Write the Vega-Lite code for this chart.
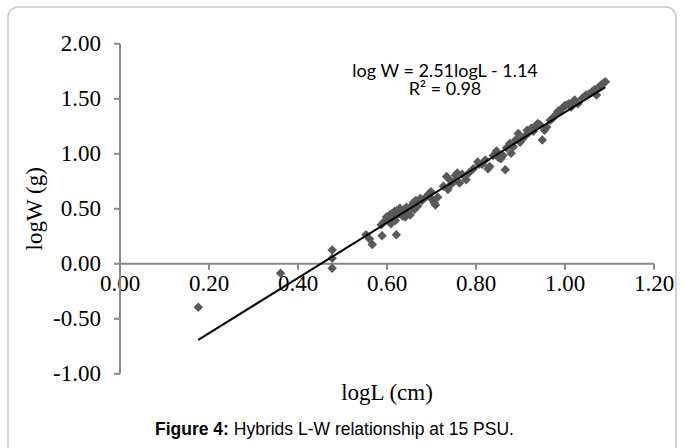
{
  "$schema": "https://vega.github.io/schema/vega-lite/v6.json",
  "width": 534,
  "height": 330,
  "autosize": {"type": "none"},
  "padding": {"left": 119.5, "top": 43.3, "right": 29.5, "bottom": 74.7},
  "background": "white",
  "config": {"view": {"stroke": null}},
  "datasets": {
    "points": [
      {"x": 0.177, "y": -0.40}, {"x": 0.362, "y": -0.09}, {"x": 0.478, "y": 0.12}, {"x": 0.478, "y": 0.045}, {"x": 0.478, "y": -0.045},
      {"x": 0.554, "y": 0.26}, {"x": 0.562, "y": 0.22}, {"x": 0.568, "y": 0.17}, {"x": 0.590, "y": 0.25}, {"x": 0.588, "y": 0.35},
      {"x": 0.595, "y": 0.38}, {"x": 0.600, "y": 0.42}, {"x": 0.603, "y": 0.40}, {"x": 0.607, "y": 0.44}, {"x": 0.610, "y": 0.36},
      {"x": 0.612, "y": 0.45}, {"x": 0.615, "y": 0.42}, {"x": 0.618, "y": 0.47}, {"x": 0.620, "y": 0.39}, {"x": 0.622, "y": 0.26},
      {"x": 0.624, "y": 0.48}, {"x": 0.627, "y": 0.45}, {"x": 0.630, "y": 0.50}, {"x": 0.633, "y": 0.47}, {"x": 0.636, "y": 0.43},
      {"x": 0.640, "y": 0.49}, {"x": 0.642, "y": 0.42}, {"x": 0.645, "y": 0.51}, {"x": 0.648, "y": 0.45}, {"x": 0.650, "y": 0.48},
      {"x": 0.653, "y": 0.44}, {"x": 0.656, "y": 0.52}, {"x": 0.660, "y": 0.55}, {"x": 0.663, "y": 0.49}, {"x": 0.666, "y": 0.57},
      {"x": 0.670, "y": 0.52}, {"x": 0.676, "y": 0.59}, {"x": 0.680, "y": 0.57}, {"x": 0.688, "y": 0.60}, {"x": 0.695, "y": 0.63},
      {"x": 0.700, "y": 0.65}, {"x": 0.703, "y": 0.58}, {"x": 0.707, "y": 0.55}, {"x": 0.710, "y": 0.53}, {"x": 0.715, "y": 0.60},
      {"x": 0.728, "y": 0.70}, {"x": 0.735, "y": 0.79}, {"x": 0.738, "y": 0.67}, {"x": 0.742, "y": 0.76}, {"x": 0.746, "y": 0.72},
      {"x": 0.750, "y": 0.74}, {"x": 0.755, "y": 0.80}, {"x": 0.759, "y": 0.82}, {"x": 0.764, "y": 0.73}, {"x": 0.770, "y": 0.81},
      {"x": 0.779, "y": 0.76}, {"x": 0.785, "y": 0.82}, {"x": 0.795, "y": 0.86}, {"x": 0.805, "y": 0.92}, {"x": 0.808, "y": 0.90},
      {"x": 0.815, "y": 0.90}, {"x": 0.822, "y": 0.94}, {"x": 0.828, "y": 0.86}, {"x": 0.832, "y": 0.88}, {"x": 0.840, "y": 0.98},
      {"x": 0.847, "y": 1.02}, {"x": 0.852, "y": 0.96}, {"x": 0.857, "y": 0.95}, {"x": 0.862, "y": 0.98}, {"x": 0.867, "y": 0.85},
      {"x": 0.870, "y": 1.05}, {"x": 0.877, "y": 1.09}, {"x": 0.880, "y": 1.00}, {"x": 0.885, "y": 1.06}, {"x": 0.890, "y": 1.12},
      {"x": 0.896, "y": 1.18}, {"x": 0.900, "y": 1.10}, {"x": 0.905, "y": 1.13}, {"x": 0.910, "y": 1.15}, {"x": 0.916, "y": 1.21},
      {"x": 0.920, "y": 1.19}, {"x": 0.926, "y": 1.23}, {"x": 0.930, "y": 1.20}, {"x": 0.936, "y": 1.25}, {"x": 0.940, "y": 1.27},
      {"x": 0.945, "y": 1.26}, {"x": 0.950, "y": 1.12}, {"x": 0.955, "y": 1.21}, {"x": 0.960, "y": 1.24}, {"x": 0.968, "y": 1.30},
      {"x": 0.974, "y": 1.32}, {"x": 0.980, "y": 1.35}, {"x": 0.985, "y": 1.38}, {"x": 0.989, "y": 1.39}, {"x": 0.995, "y": 1.41},
      {"x": 1.000, "y": 1.43}, {"x": 1.004, "y": 1.44}, {"x": 1.010, "y": 1.45}, {"x": 1.015, "y": 1.42}, {"x": 1.020, "y": 1.47},
      {"x": 1.023, "y": 1.485}, {"x": 1.030, "y": 1.45}, {"x": 1.040, "y": 1.50}, {"x": 1.048, "y": 1.53}, {"x": 1.055, "y": 1.54},
      {"x": 1.062, "y": 1.56}, {"x": 1.068, "y": 1.58}, {"x": 1.072, "y": 1.53}, {"x": 1.077, "y": 1.60}, {"x": 1.082, "y": 1.62},
      {"x": 1.088, "y": 1.64}, {"x": 1.092, "y": 1.65}
    ],
    "trend": [
      {"x": 0.177, "y": -0.696},
      {"x": 1.092, "y": 1.601}
    ]
  },
  "layer": [
    {
      "data": {"values": [{}]},
      "mark": {"type": "rect", "fill": null, "stroke": "#c8c8c8", "strokeWidth": 1.5, "cornerRadius": 10},
      "encoding": {
        "x": {"datum": -0.2506, "type": "quantitative"},
        "x2": {"datum": 1.2506},
        "y": {"datum": 2.33, "type": "quantitative"},
        "y2": {"datum": -1.75}
      }
    },
    {
      "data": {"name": "points"},
      "mark": {"type": "point", "shape": "diamond", "filled": true, "size": 90, "color": "#595959", "opacity": 1},
      "encoding": {
        "x": {
          "field": "x",
          "type": "quantitative",
          "scale": {"domain": [0, 1.2], "nice": false, "zero": false},
          "axis": {
            "orient": "bottom",
            "offset": -110,
            "values": [0, 0.2, 0.4, 0.6, 0.8, 1, 1.2],
            "labelExpr": "format(datum.value, '.2f')",
            "domainColor": "#898989",
            "domainWidth": 2,
            "tickColor": "#898989",
            "tickWidth": 2,
            "tickSize": 6,
            "labelFont": "Liberation Serif",
            "labelFontSize": 23,
            "labelColor": "black",
            "labelPadding": 3,
            "labelFlush": false,
            "labelOverlap": false,
            "grid": false,
            "title": "logL (cm)",
            "titleFont": "Liberation Serif",
            "titleFontSize": 23,
            "titleFontWeight": "normal",
            "titleColor": "black",
            "titleY": 136,
            "titleBaseline": "alphabetic"
          }
        },
        "y": {
          "field": "y",
          "type": "quantitative",
          "scale": {"domain": [-1, 2], "nice": false, "zero": false},
          "axis": {
            "orient": "left",
            "values": [-1, -0.5, 0, 0.5, 1, 1.5, 2],
            "labelExpr": "(datum.value < 0 ? '-' : '') + format(abs(datum.value), '.2f')",
            "domainColor": "#898989",
            "domainWidth": 2,
            "tickColor": "#898989",
            "tickWidth": 2,
            "tickSize": 6,
            "labelFont": "Liberation Serif",
            "labelFontSize": 23,
            "labelColor": "black",
            "labelPadding": 13,
            "labelFlush": false,
            "labelOverlap": false,
            "grid": false,
            "title": "logW (g)",
            "titleFont": "Liberation Serif",
            "titleFontSize": 23,
            "titleFontWeight": "normal",
            "titleColor": "black",
            "titleX": -78.5,
            "titleBaseline": "alphabetic"
          }
        }
      }
    },
    {
      "data": {"name": "trend"},
      "mark": {"type": "line", "color": "black", "strokeWidth": 2},
      "encoding": {
        "x": {"field": "x", "type": "quantitative"},
        "y": {"field": "y", "type": "quantitative"}
      }
    },
    {
      "data": {"values": [{}]},
      "mark": {"type": "text", "font": "Lato", "fontSize": 18, "color": "black", "align": "center", "baseline": "alphabetic"},
      "encoding": {
        "x": {"datum": 0.7315, "type": "quantitative"},
        "y": {"datum": 1.698, "type": "quantitative"},
        "text": {"value": "log W = 2.51logL - 1.14"}
      }
    },
    {
      "data": {"values": [{}]},
      "mark": {"type": "text", "font": "Lato", "fontSize": 18, "color": "black", "align": "center", "baseline": "alphabetic"},
      "encoding": {
        "x": {"datum": 0.7315, "type": "quantitative"},
        "y": {"datum": 1.53, "type": "quantitative"},
        "text": {"value": "R² = 0.98"}
      }
    },
    {
      "data": {"values": [{}]},
      "mark": {"type": "text", "font": "Liberation Sans", "fontSize": 17.5, "fontWeight": "bold", "color": "black", "align": "right", "baseline": "alphabetic"},
      "encoding": {
        "x": {"datum": 0.2458, "type": "quantitative"},
        "y": {"datum": -1.56, "type": "quantitative"},
        "text": {"value": "Figure 4:"}
      }
    },
    {
      "data": {"values": [{}]},
      "mark": {"type": "text", "font": "Liberation Sans", "fontSize": 17.5, "color": "black", "align": "left", "baseline": "alphabetic", "dx": 4.9},
      "encoding": {
        "x": {"datum": 0.2458, "type": "quantitative"},
        "y": {"datum": -1.56, "type": "quantitative"},
        "text": {"value": "Hybrids L-W relationship at 15 PSU."}
      }
    }
  ]
}
